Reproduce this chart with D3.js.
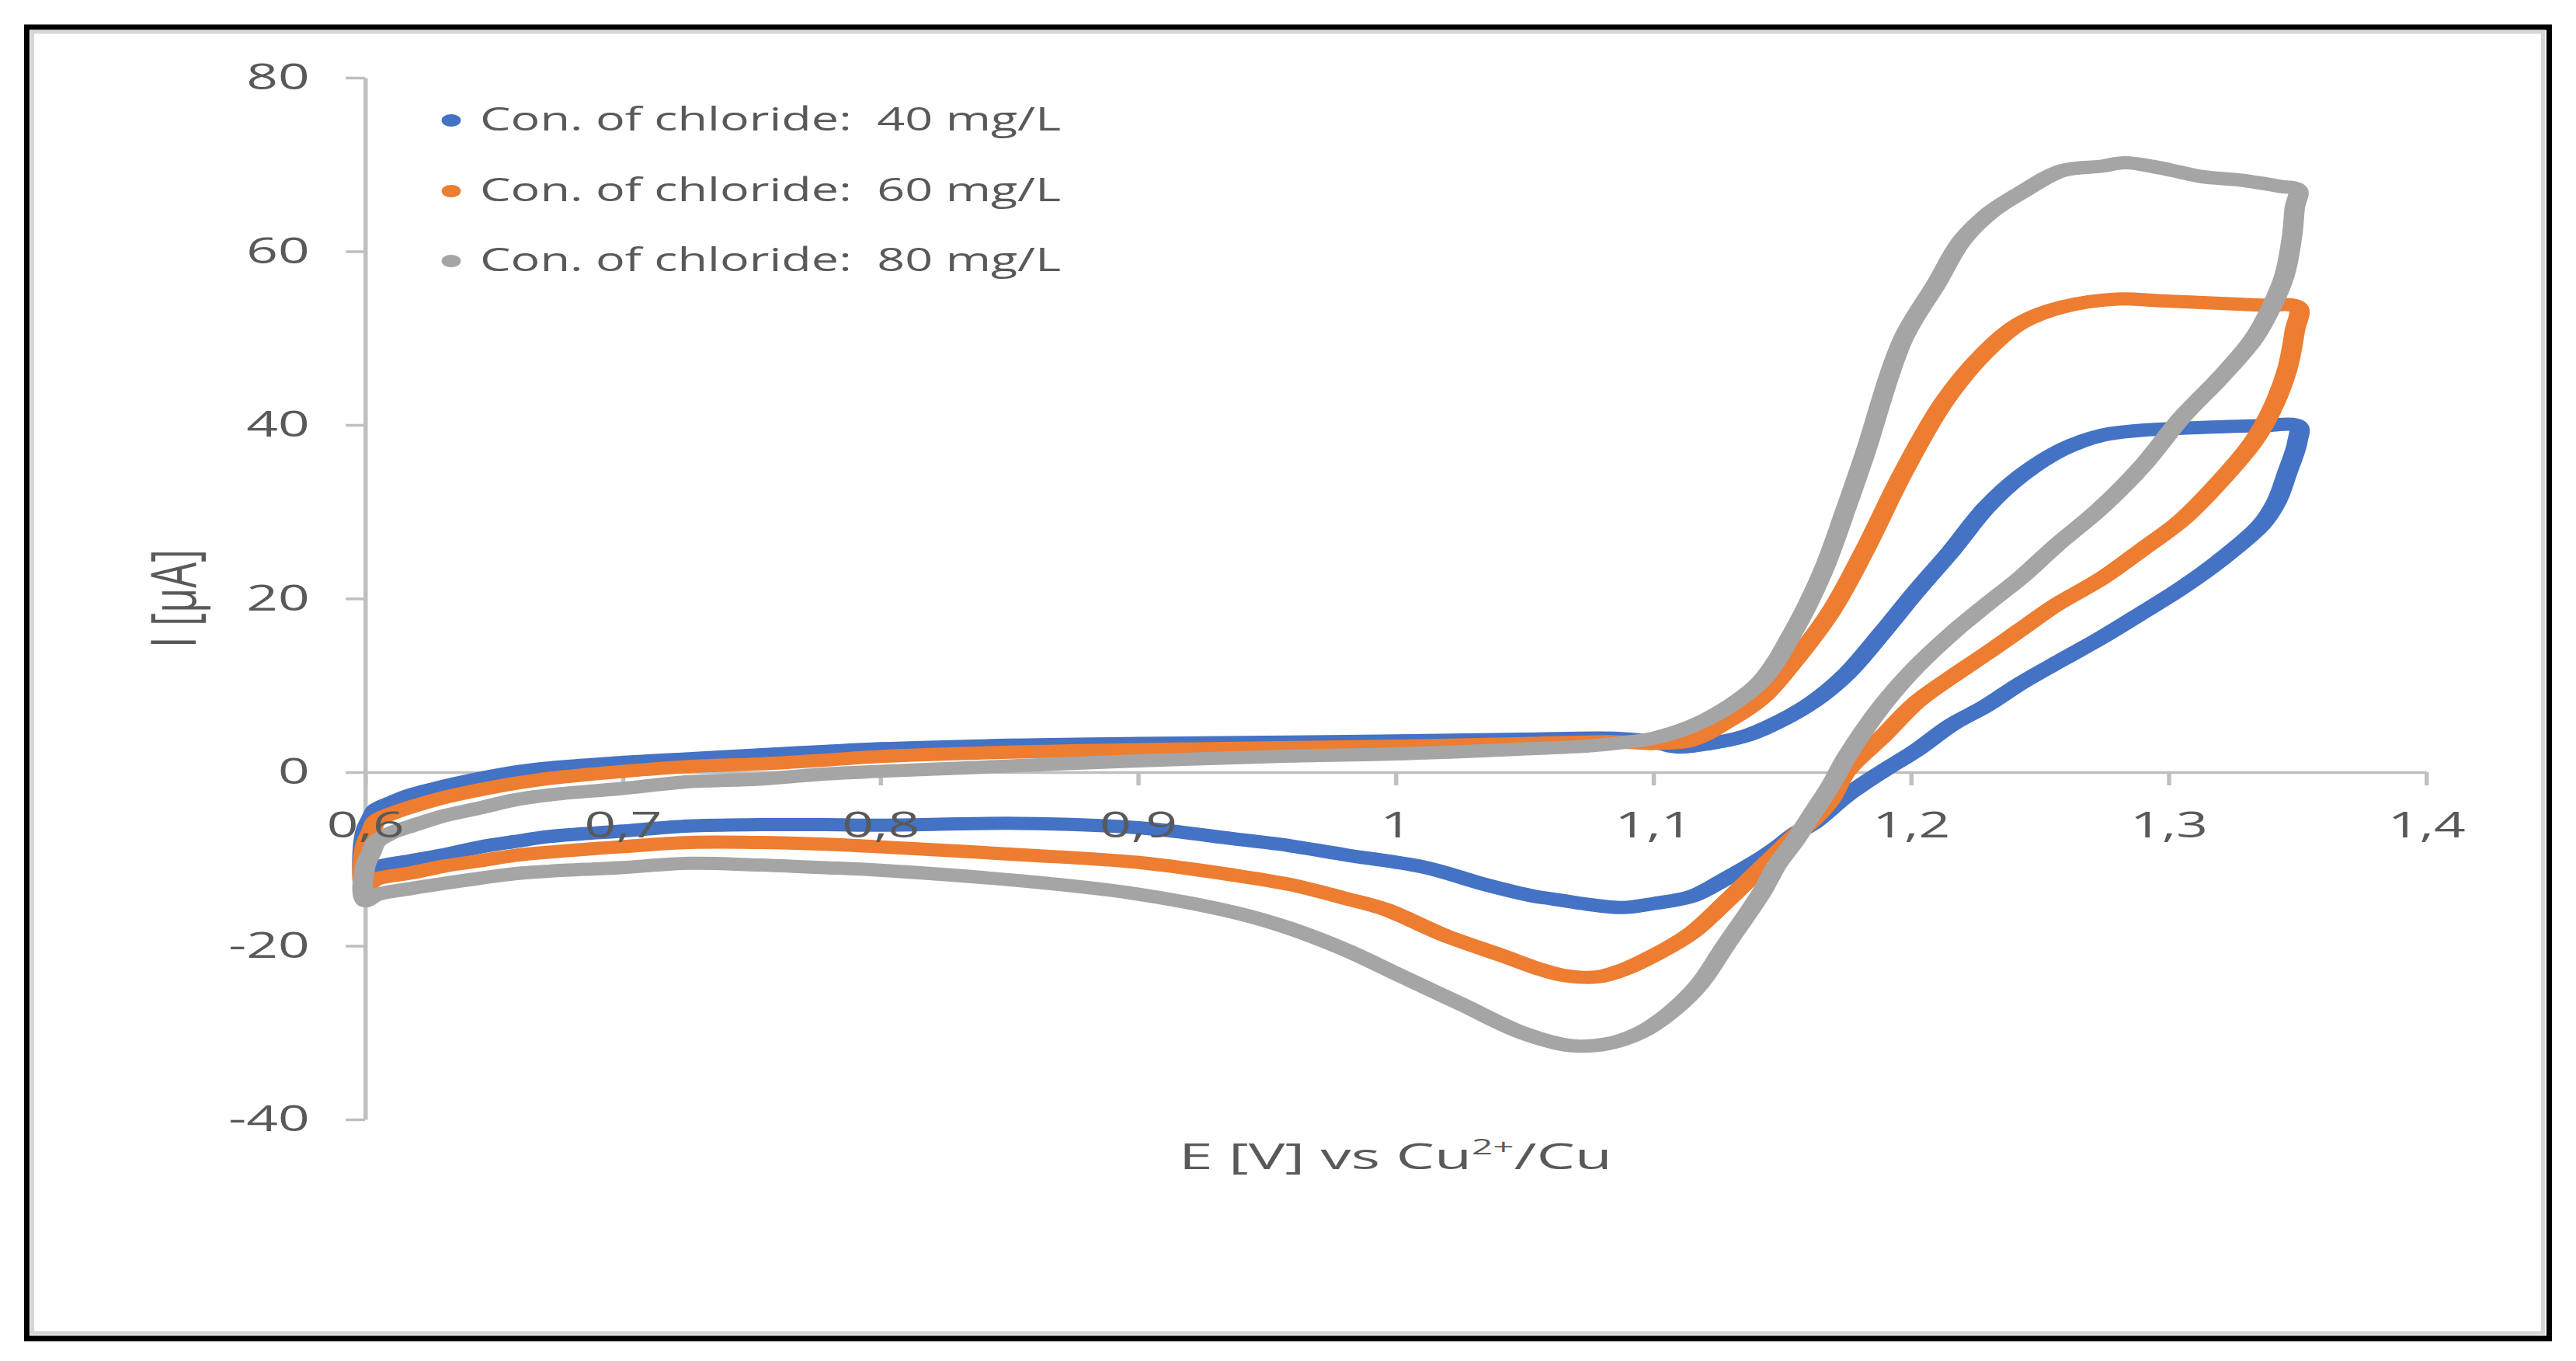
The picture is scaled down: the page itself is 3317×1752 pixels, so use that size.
<!DOCTYPE html>
<html>
<head>
<meta charset="utf-8">
<script src="https://cdn.jsdelivr.net/npm/d3@7"></script>
<style>
  html, body { margin: 0; padding: 0; background: #ffffff; }
  svg { display: block; }
  text { font-family: 'Open Sans', 'Noto Sans', sans-serif; fill: #595959; }
</style>
</head>
<body>
<svg id="chart" width="3317" height="1752"></svg>
<script>
// ---------------- DATA ----------------
const seriesNames = ["Con. of chloride:  40 mg/L", "Con. of chloride:  60 mg/L", "Con. of chloride:  80 mg/L"];
const xTicks = [0.6, 0.7, 0.8, 0.9, 1.0, 1.1, 1.2, 1.3, 1.4];
const xTickLabels = ["0,6", "0,7", "0,8", "0,9", "1", "1,1", "1,2", "1,3", "1,4"];
const yTicks = [-40, -20, 0, 20, 40, 60, 80];
const yTickLabels = ["-40", "-20", "0", "20", "40", "60", "80"];

// [E (V), I (uA)] — forward sweep 0.6 -> 1.35, then reverse 1.35 -> 0.6
const cl40 = [
  [0.600,-7.0],[0.6025,-5.3],[0.6045,-4.3],[0.611,-3.4],[0.618,-2.6],[0.631,-1.6],[0.645,-0.7],[0.658,0.0],
  [0.672,0.5],[0.699,1.1],[0.726,1.55],[0.753,2.0],[0.779,2.4],[0.800,2.7],[0.850,3.1],[0.900,3.3],
  [0.950,3.45],[1.000,3.6],[1.050,3.8],[1.086,3.9],[1.100,3.5],[1.109,2.9],[1.122,3.3],[1.135,4.1],
  [1.148,5.7],[1.162,8.1],[1.175,11.3],[1.189,16.1],[1.202,20.8],[1.216,25.6],[1.229,30.4],[1.243,34.2],
  [1.259,37.2],[1.274,38.8],[1.290,39.4],[1.313,39.7],[1.336,39.9],[1.350,39.9],
  [1.350,38.0],[1.346,34.4],[1.342,31.2],[1.336,28.5],[1.320,24.4],[1.305,21.2],[1.290,18.4],[1.274,15.5],
  [1.259,13.0],[1.243,10.3],[1.229,7.6],[1.216,5.5],[1.202,2.5],[1.189,0.1],[1.175,-2.7],[1.162,-5.9],
  [1.155,-7.1],[1.148,-8.7],[1.142,-9.9],[1.128,-12.3],[1.115,-14.3],[1.101,-15.1],[1.088,-15.6],[1.074,-15.2],
  [1.061,-14.6],[1.054,-14.3],[1.033,-12.8],[1.012,-11.0],[0.980,-9.5],[0.955,-8.3],[0.938,-7.7],[0.900,-6.4],
  [0.854,-5.9],[0.800,-6.1],[0.779,-6.05],[0.753,-6.05],[0.726,-6.2],[0.699,-6.8],[0.672,-7.4],[0.658,-8.0],
  [0.645,-8.6],[0.631,-9.5],[0.618,-10.2],[0.6045,-11.0],[0.600,-12.2]
];
const cl60 = [
  [0.600,-8.6],[0.6025,-6.8],[0.6045,-5.6],[0.611,-4.7],[0.618,-4.0],[0.631,-2.9],[0.645,-2.0],[0.658,-1.3],
  [0.672,-0.7],[0.699,0.06],[0.726,0.66],[0.753,0.95],[0.779,1.4],[0.800,1.8],[0.850,2.3],[0.900,2.6],
  [0.950,2.8],[1.000,3.0],[1.050,3.3],[1.086,3.5],[1.100,3.3],[1.115,3.7],[1.128,5.7],[1.142,8.5],
  [1.155,12.9],[1.169,18.5],[1.182,25.5],[1.197,34.5],[1.213,42.7],[1.228,48.1],[1.243,51.8],[1.259,53.6],
  [1.280,54.5],[1.297,54.3],[1.320,54.0],[1.336,53.8],[1.350,53.6],
  [1.349,50.8],[1.346,46.3],[1.340,41.7],[1.333,38.1],[1.320,33.5],[1.305,29.0],[1.290,25.7],[1.274,22.3],
  [1.256,19.2],[1.243,16.5],[1.229,13.6],[1.216,11.0],[1.202,8.0],[1.189,4.1],[1.175,0.1],[1.169,-3.1],
  [1.162,-5.5],[1.155,-7.3],[1.148,-9.3],[1.142,-11.0],[1.135,-13.0],[1.128,-15.0],[1.115,-18.5],[1.101,-21.0],
  [1.088,-22.8],[1.078,-23.6],[1.065,-23.4],[1.055,-22.6],[1.042,-21.2],[1.019,-18.8],[0.996,-15.8],[0.980,-14.5],
  [0.960,-13.0],[0.938,-11.9],[0.900,-10.4],[0.854,-9.5],[0.800,-8.6],[0.779,-8.3],[0.753,-8.1],[0.726,-8.1],
  [0.699,-8.6],[0.672,-9.2],[0.658,-9.6],[0.645,-10.2],[0.631,-10.8],[0.618,-11.6],[0.6045,-12.3],[0.600,-13.1]
];
const cl80 = [
  [0.600,-11.0],[0.6025,-9.2],[0.6045,-8.0],[0.611,-6.9],[0.618,-6.2],[0.631,-5.0],[0.645,-4.1],[0.658,-3.2],
  [0.672,-2.6],[0.699,-1.9],[0.726,-1.1],[0.753,-0.8],[0.779,-0.2],[0.800,0.1],[0.833,0.5],[0.896,1.25],
  [0.959,1.85],[1.000,2.1],[1.044,2.6],[1.074,3.0],[1.088,3.4],[1.100,3.9],[1.115,5.3],[1.128,7.3],
  [1.142,10.5],[1.155,16.5],[1.166,23.2],[1.175,30.5],[1.182,36.5],[1.197,49.9],[1.210,56.3],[1.220,61.3],
  [1.231,64.5],[1.243,66.8],[1.259,69.3],[1.274,69.8],[1.283,70.2],[1.297,69.6],[1.313,68.6],[1.328,68.2],
  [1.343,67.5],[1.350,67.1],
  [1.349,65.0],[1.348,61.8],[1.345,57.2],[1.340,53.6],[1.333,49.9],[1.320,45.4],[1.305,40.8],[1.290,35.3],
  [1.274,30.5],[1.256,26.0],[1.243,22.5],[1.229,19.2],[1.216,16.0],[1.202,12.1],[1.189,7.7],[1.175,1.7],
  [1.169,-1.5],[1.162,-4.7],[1.155,-7.9],[1.148,-10.7],[1.142,-13.9],[1.128,-20.0],[1.118,-24.4],[1.107,-27.6],
  [1.095,-30.0],[1.082,-31.3],[1.068,-31.5],[1.049,-30.0],[1.026,-26.8],[1.003,-23.6],[0.980,-20.4],[0.959,-18.0],
  [0.938,-16.2],[0.899,-14.0],[0.854,-12.5],[0.800,-11.3],[0.779,-11.0],[0.753,-10.7],[0.726,-10.5],[0.699,-11.0],
  [0.672,-11.4],[0.658,-11.7],[0.645,-12.2],[0.631,-12.8],[0.618,-13.4],[0.6045,-14.1],[0.600,-14.8]
];

// ---------------- STYLE / LAYOUT ----------------
const seriesColors = ["#4472C4", "#ED7D31", "#A5A5A5"];
const SX = 1.55;              // the reference picture is stretched horizontally
const axisColor = "#bfbfbf";
const textColor = "#595959";

const svg = d3.select("#chart");

// frame
svg.append("rect").attr("x", 34.5).attr("y", 35).attr("width", 3248).attr("height", 1688)
  .attr("fill", "#ffffff").attr("stroke", "#000000").attr("stroke-width", 7);
svg.append("rect").attr("x", 41.5).attr("y", 41).attr("width", 3233).attr("height", 1675)
  .attr("fill", "none").attr("stroke", "#d6d6d6").attr("stroke-width", 5);

const g = svg.append("g").attr("transform", `scale(${SX},1)`);

const x = d3.scaleLinear().domain([0.6, 1.4]).range([470 / SX, 3124 / SX]);
const y = d3.scaleLinear().domain([-40, 80]).range([1441, 100]);

function styleAxis(sel, showText, showLines) {
  sel.attr("font-family", null).attr("font-size", null);
  sel.select(".domain").attr("stroke", showLines ? axisColor : "none").attr("stroke-width", 3.5);
  sel.selectAll(".tick line").attr("stroke", showLines ? axisColor : "none").attr("stroke-width", 3.5);
  sel.selectAll(".tick text").style("font-size", "46px").attr("fill", textColor)
    .style("display", showText ? null : "none");
}

const yAxisGen = d3.axisLeft(y).tickValues(yTicks).tickSize(16).tickSizeOuter(0).tickPadding(30)
  .tickFormat((d, i) => yTickLabels[i]);
const xAxisGen = d3.axisBottom(x).tickValues(xTicks).tickSize(17).tickSizeOuter(0).tickPadding(34)
  .tickFormat((d, i) => xTickLabels[i]);

// axis lines (below the series)
g.append("g").attr("transform", `translate(${x(0.6)},0)`).call(yAxisGen).call(s => styleAxis(s, false, true));
g.append("g").attr("transform", `translate(0,${y(0)})`).call(xAxisGen).call(s => styleAxis(s, false, true));

// series
const line = d3.line().x(d => x(d[0])).y(d => y(d[1])).curve(d3.curveCatmullRomClosed.alpha(0.5));
const seriesData = [cl40, cl60, cl80];
g.selectAll("path.series").data(seriesData).join("path")
  .attr("class", "series")
  .attr("d", d => line(d))
  .attr("fill", "none")
  .attr("stroke", (d, i) => seriesColors[i])
  .attr("stroke-width", 17)
  .attr("stroke-linejoin", "round")
  .attr("stroke-linecap", "round");

// axis labels (above the series)
g.append("g").attr("transform", `translate(${x(0.6)},0)`).call(yAxisGen).call(s => styleAxis(s, true, false));
g.append("g").attr("transform", `translate(0,${y(0)})`).call(xAxisGen).call(s => styleAxis(s, true, false));

// legend
const legendY = [155, 246, 336];
seriesNames.forEach((name, i) => {
  g.append("circle").attr("cx", 581 / SX).attr("cy", legendY[i]).attr("r", 8).attr("fill", seriesColors[i]);
  g.append("text").attr("x", 618 / SX).attr("y", legendY[i] + 13)
    .attr("xml:space", "preserve").style("white-space", "pre")
    .style("font-size", "42px")
    .attr("textLength", 748 / SX).attr("lengthAdjust", "spacingAndGlyphs")
    .text(name);
});

// x axis title
const xt = g.append("text").attr("x", (x(0.6) + x(1.4)) / 2).attr("y", 1505)
  .attr("text-anchor", "middle").style("font-size", "46px")
  .attr("textLength", 558 / SX).attr("lengthAdjust", "spacingAndGlyphs");
xt.append("tspan").text("E [V] vs Cu");
xt.append("tspan").attr("baseline-shift", "super").style("font-size", "28px").text("2+");
xt.append("tspan").text("/Cu");

// y axis title
g.append("text")
  .attr("transform", `translate(${252 / SX},${(y(-40) + y(80)) / 2}) rotate(-90)`)
  .attr("text-anchor", "middle").style("font-size", "52px")
  .text("I [\u03BCA]");
</script>
</body>
</html>
